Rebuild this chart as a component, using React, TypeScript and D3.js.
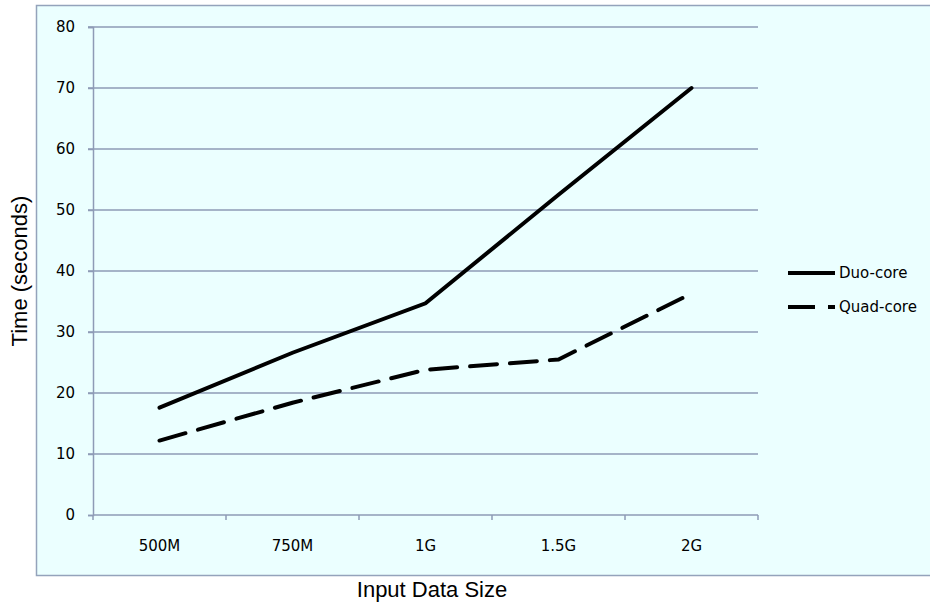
import React, { useEffect, useRef } from 'react';
import * as d3 from 'd3';

const categories = ['500M', '750M', '1G', '1.5G', '2G'];
const duoCore = [17.6, 26.6, 34.7, 52.5, 70];
const quadCore = [12.2, 18.4, 23.8, 25.5, 36.3];
const yTicks = [0, 10, 20, 30, 40, 50, 60, 70, 80];
const seriesNames = ['Duo-core', 'Quad-core'];

const App = () => {
  const chartRef = useRef<SVGSVGElement>(null);

  useEffect(() => {
    const width = 930;
    const height = 604;
    const svg = d3.select(chartRef.current).attr('width', width).attr('height', height);
    svg.selectAll('*').remove();

    const gridColor = '#8e9bb6';
    const left = 93;
    const right = 758;
    const top = 27;
    const bottom = 515;

    // chart panel
    svg.append('rect')
      .attr('x', 36.5).attr('y', 5.5)
      .attr('width', 920).attr('height', 570)
      .attr('fill', '#ebffff')
      .attr('stroke', '#94a3bb')
      .attr('stroke-width', 1.5);

    const x = d3.scaleBand().domain(categories).range([left, right]);
    const y = d3.scaleLinear().domain([0, 80]).range([bottom, top]);

    // gridlines
    svg.append('g').selectAll('line')
      .data(yTicks.filter(d => d > 0))
      .enter().append('line')
      .attr('x1', left - 5).attr('x2', right)
      .attr('y1', d => y(d)).attr('y2', d => y(d))
      .attr('stroke', gridColor).attr('stroke-width', 1.5);

    const yAxis = svg.append('g')
      .attr('transform', `translate(${left},0)`)
      .call(d3.axisLeft(y).tickValues(yTicks).tickSize(5).tickPadding(13));
    yAxis.select('.domain').attr('stroke', gridColor).attr('stroke-width', 1.5);
    yAxis.selectAll('.tick line').attr('stroke', gridColor).attr('stroke-width', 1.5);
    yAxis.selectAll('.tick text')
      .attr('font-family', 'DejaVu Sans').attr('font-size', 15).attr('fill', '#000');

    const xAxis = svg.append('g')
      .attr('transform', `translate(0,${bottom})`)
      .call(d3.axisBottom(x).tickSize(0).tickPadding(25));
    xAxis.select('.domain').remove();
    xAxis.selectAll('.tick text')
      .attr('font-family', 'DejaVu Sans').attr('font-size', 15).attr('fill', '#000');
    xAxis.append('line')
      .attr('x1', left).attr('x2', right).attr('y1', 0).attr('y2', 0)
      .attr('stroke', gridColor).attr('stroke-width', 1.5);
    xAxis.selectAll('.xtick')
      .data(d3.range(categories.length + 1))
      .enter().append('line')
      .attr('class', 'xtick')
      .attr('x1', i => left + i * x.bandwidth()).attr('x2', i => left + i * x.bandwidth())
      .attr('y1', 0).attr('y2', 5)
      .attr('stroke', gridColor).attr('stroke-width', 1.5);

    const line = d3.line<number>()
      .x((_, i) => (x(categories[i]) as number) + x.bandwidth() / 2)
      .y(d => y(d));

    const dashes = [null, '27,13'];
    [duoCore, quadCore].forEach((s, i) => {
      svg.append('path')
        .datum(s)
        .attr('d', line)
        .attr('fill', 'none')
        .attr('stroke', '#000')
        .attr('stroke-width', 4)
        .attr('stroke-linecap', 'round')
        .attr('stroke-dasharray', dashes[i]);
    });

    // legend
    const legend = svg.append('g').attr('transform', 'translate(788,273)');
    seriesNames.forEach((name, i) => {
      legend.append('line')
        .attr('x1', 0).attr('x2', 47)
        .attr('y1', i * 34).attr('y2', i * 34)
        .attr('stroke', '#000').attr('stroke-width', 4)
        .attr('stroke-dasharray', i === 1 ? '27,13' : null);
      legend.append('text')
        .attr('x', 51).attr('y', i * 34 + 5)
        .attr('font-family', 'DejaVu Sans').attr('font-size', 15)
        .text(name);
    });

    svg.append('text')
      .attr('transform', `translate(27,${(top + bottom) / 2}) rotate(-90)`)
      .attr('text-anchor', 'middle')
      .attr('font-family', 'Liberation Sans').attr('font-size', 22)
      .text('Time (seconds)');

    svg.append('text')
      .attr('x', 432).attr('y', 597)
      .attr('text-anchor', 'middle')
      .attr('font-family', 'Liberation Sans').attr('font-size', 22)
      .text('Input Data Size');
  }, []);

  return (
    <div style={{ position: 'absolute', left: 0, top: 0 }}>
      <svg ref={chartRef}></svg>
    </div>
  );
};

export default App;
